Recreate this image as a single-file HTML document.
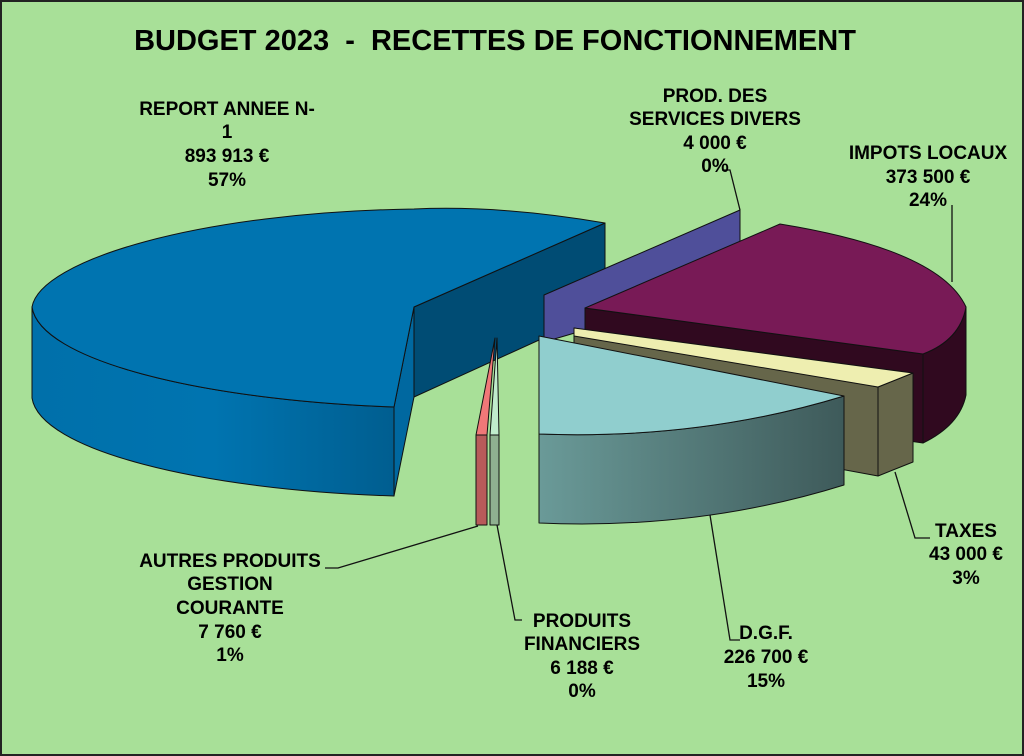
<!DOCTYPE html>
<html><head><style>
body{margin:0;background:#fff}
svg{display:block}
text{font-family:"Liberation Sans",sans-serif;font-weight:bold;fill:#000;white-space:pre}
.l{font-size:19px;text-anchor:middle}
</style></head><body>
<svg width="1024" height="756" viewBox="0 0 1024 756" xml:space="preserve">
<defs>
<linearGradient id="bw" x1="0" x2="1"><stop offset="0" stop-color="#0070aa"/><stop offset="0.5" stop-color="#0074b0"/><stop offset="1" stop-color="#005e90"/></linearGradient>
<linearGradient id="tw" x1="0" x2="1"><stop offset="0" stop-color="#6a9a98"/><stop offset="1" stop-color="#3e5a5a"/></linearGradient>
</defs>
<rect x="1" y="1" width="1022" height="754" fill="#a8e098" stroke="#222" stroke-width="2"/>
<text x="495" y="50" style="font-size:29px" text-anchor="middle">BUDGET 2023  -  RECETTES DE FONCTIONNEMENT</text>
<g stroke="#111" stroke-width="1" stroke-linejoin="round">
<path d="M414,307 L605,223 L605,310 L414,397 Z" fill="#004c74"/>
<path d="M32,307 L32,398 C40,450 200,490 394,496 L394,407 C200,400 40,360 32,307 Z" fill="url(#bw)"/>
<path d="M394,407 L414,307 L414,397 L394,496 Z" fill="#0068a0"/>
<path d="M605,223 Q500,205 414,209 C200,212 40,260 32,307 C40,360 200,400 394,407 L414,307 Z" fill="#0074b0"/>
<path d="M544,295 L740,210 L740,250 L585,320 L585,330 L544,342 Z" fill="#4f4f9a"/>
<path d="M923,354 Q960,340 966,307 L966,395 Q960,425 923,443 Z" fill="#30091f"/>
<path d="M585,308 L923,354 L923,443 L585,395 Z" fill="#30091f"/>
<path d="M585,308 L780,224 Q940,250 966,307 Q960,340 923,354 Z" fill="#781a56"/>
<path d="M574,328 L878,387 L878,476 L574,420 Z" fill="#66664a"/>
<path d="M878,387 L913,373 L913,462 L878,476 Z" fill="#66664a"/>
<path d="M574,328 L913,373 L878,387 L574,336 Z" fill="#eeeeb0"/>
<path d="M539,434 L539,523 Q700,530 844,485 L844,396 Q700,440 539,434 Z" fill="url(#tw)"/>
<path d="M539,336 L844,396 Q700,440 539,434 Z" fill="#90cece"/>
<path d="M476,435 L487,435 L487,525 L476,525 Z" fill="#b85a5a"/>
<path d="M495,338 L476,435 L487,435 Z" fill="#f07878"/>
<path d="M490,435 L499,435 L499,525 L490,525 Z" fill="#8fb090"/>
<path d="M497,338 L490,435 L499,435 Z" fill="#c0eccc"/>
</g>
<g stroke="#111" stroke-width="1.3" fill="none">
<path d="M952,282 L952,205"/>
<path d="M740,210 L730,170 L722,170"/>
<path d="M895,472 L915,538 L930,538"/>
<path d="M710,515 L730,640 L740,640"/>
<path d="M497,525 L515,620 L522,620"/>
<path d="M478,526 L338,568 L325,568"/>
</g>
<text class="l" x="227" y="115">REPORT ANNEE N-</text>
<text class="l" x="227" y="138">1</text>
<text class="l" x="227" y="162">893 913 €</text>
<text class="l" x="227" y="186">57%</text>
<text class="l" x="715" y="102">PROD. DES</text>
<text class="l" x="715" y="125">SERVICES DIVERS</text>
<text class="l" x="715" y="149">4 000 €</text>
<text class="l" x="715" y="172">0%</text>
<text class="l" x="928" y="159">IMPOTS LOCAUX</text>
<text class="l" x="928" y="183">373 500 €</text>
<text class="l" x="928" y="206">24%</text>
<text class="l" x="966" y="537">TAXES</text>
<text class="l" x="966" y="560">43 000 €</text>
<text class="l" x="966" y="584">3%</text>
<text class="l" x="766" y="639">D.G.F.</text>
<text class="l" x="766" y="663">226 700 €</text>
<text class="l" x="766" y="687">15%</text>
<text class="l" x="582" y="627">PRODUITS</text>
<text class="l" x="582" y="650">FINANCIERS</text>
<text class="l" x="582" y="674">6 188 €</text>
<text class="l" x="582" y="697">0%</text>
<text class="l" x="230" y="567">AUTRES PRODUITS</text>
<text class="l" x="230" y="590">GESTION</text>
<text class="l" x="230" y="614">COURANTE</text>
<text class="l" x="230" y="638">7 760 €</text>
<text class="l" x="230" y="661">1%</text>
</svg>
</body></html>
